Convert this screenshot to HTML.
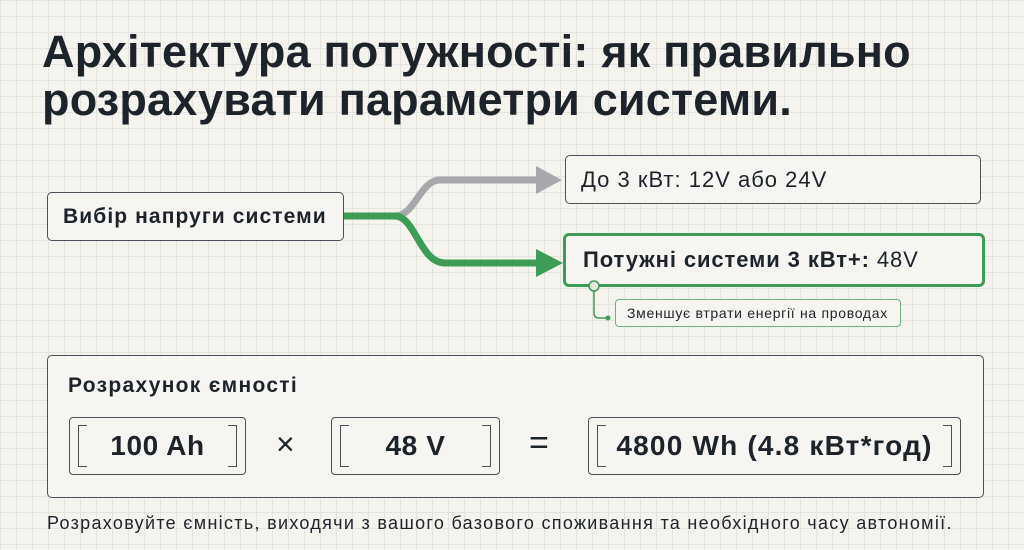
<!DOCTYPE html>
<html><head><meta charset="utf-8"><style>
body{margin:0;width:1024px;height:550px;overflow:hidden;font-family:"Liberation Sans","DejaVu Sans",sans-serif;color:#1d232b;
background-color:#f4f3ee;
background-image:linear-gradient(#e4e3dd 1px,transparent 1px),linear-gradient(90deg,#e4e3dd 1px,transparent 1px);
background-size:16px 16px;position:relative}
.a{position:absolute;box-sizing:border-box;white-space:nowrap}
.box{border:1.5px solid #4a5058;border-radius:5px;background:#f6f5f1}
h1{position:absolute;left:42px;top:28px;margin:0;font-size:45px;line-height:48px;font-weight:bold;letter-spacing:0.2px;color:#1d232b;white-space:nowrap}
.br{border:1.5px solid #4a5058;border-radius:4px;background:#f6f5f1;display:flex;align-items:center;justify-content:center;font-size:28px;font-weight:bold;letter-spacing:0.6px}
.br:before,.br:after{content:"";position:absolute;top:7px;bottom:7px;width:8px;border:1.5px solid #4a5058}
.br:before{left:8px;border-right:none}
.br:after{right:8px;border-left:none}
</style></head><body>
<h1>Архітектура потужності: як правильно<br>розрахувати параметри системи.</h1>
<svg class="a" style="left:0;top:0" width="1024" height="550">
<path d="M344 216 H395 C415 216 420 180 440 180 H540" stroke="#a6a8ab" stroke-width="7" fill="none"/>
<polygon points="536,166 562,180 536,194" fill="#a6a8ab"/>
<path d="M344 216 H395 C415 216 420 263 445 263 H540" stroke="#3d9c55" stroke-width="7" fill="none"/>
<polygon points="536,249 563,263 536,277" fill="#3d9c55"/>
<path d="M594 290 V313 Q594 318 599 318 H608" stroke="#3d9c55" stroke-width="1.5" fill="none"/>
<circle cx="608" cy="318" r="2.5" fill="#3d9c55"/>
</svg>
<div class="a box" style="left:47px;top:192px;width:297px;height:49px;display:flex;align-items:center;padding-left:15px;font-size:21px;letter-spacing:1.1px;font-weight:bold">Вибір напруги системи</div>
<div class="a box" style="left:565px;top:155px;width:416px;height:49px;display:flex;align-items:center;padding-left:15px;font-size:22px;letter-spacing:1px">До 3 кВт: 12V або 24V</div>
<div class="a" style="left:563px;top:233px;width:422px;height:54px;border:3.5px solid #3d9c55;border-radius:6px;background:#f6f5f1;display:flex;align-items:center;padding-left:17px;font-size:22px;letter-spacing:0.9px"><b>Потужні системи 3 кВт+:</b>&nbsp;48V</div>
<svg class="a" style="left:587px;top:279px" width="16" height="16"><circle cx="7" cy="7" r="5" fill="#e4e6e0" stroke="#3d9c55" stroke-width="1.5"/></svg>
<div class="a" style="left:615px;top:299px;width:286px;height:28px;border:1.2px solid #6cb37e;border-radius:4px;background:#f6f5f1;font-size:14px;letter-spacing:0.7px;display:flex;align-items:center;padding-left:11px">Зменшує втрати енергії на проводах</div>
<div class="a box" style="left:47px;top:355px;width:937px;height:143px"></div>
<div class="a" style="left:68px;top:374px;font-size:21px;letter-spacing:1.3px;font-weight:bold">Розрахунок ємності</div>
<div class="a br" style="left:69px;top:417px;width:177px;height:58px">100 Ah</div>
<div class="a" style="left:276px;top:426px;font-size:32px">×</div>
<div class="a br" style="left:331px;top:417px;width:169px;height:58px">48 V</div>
<div class="a" style="left:529px;top:424px;font-size:34px">=</div>
<div class="a br" style="left:588px;top:417px;width:373px;height:58px;letter-spacing:1.2px">4800 Wh (4.8 кВт*год)</div>
<div class="a" style="left:47px;top:513px;font-size:18px;letter-spacing:1.3px">Розраховуйте ємність, виходячи з вашого базового споживання та необхідного часу автономії.</div>
</body></html>
